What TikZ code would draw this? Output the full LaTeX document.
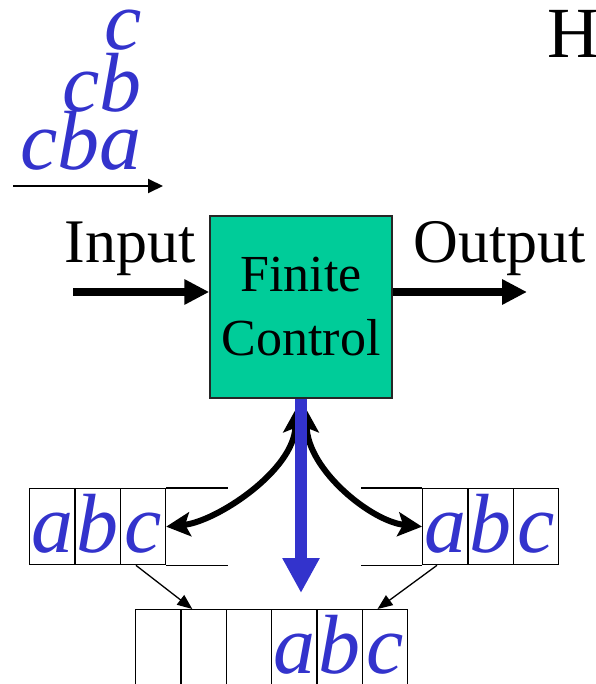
\documentclass[tikz,border=0pt]{standalone}
\usepackage{fontspec}
\setmainfont{Liberation Serif}
\usepackage{xcolor}
\definecolor{fcgreen}{HTML}{00CC99}
\definecolor{symblue}{HTML}{3333CC}
\usepackage{tikz}
\usetikzlibrary{arrows.meta, positioning}

\begin{document}
\begin{tikzpicture}[
  x=1pt, y=-1pt,
  control/.style={rectangle, draw=black!85, fill=fcgreen, line width=1.5pt,
    minimum width=182pt, minimum height=182pt, align=center,
    font=\fontsize{52}{64}\selectfont},
  lbl/.style={inner sep=0pt, font=\fontsize{62}{62}\selectfont},
  sym/.style={inner sep=0pt, text=symblue, font=\fontsize{84}{84}\selectfont\itshape},
  cell/.style={rectangle, draw, line width=1.3pt, anchor=north west, inner sep=0pt,
    minimum width=45.3pt, minimum height=76pt, text height=58pt, text depth=6pt,
    text=symblue, font=\fontsize{84}{84}\selectfont\itshape},
  fat/.style={-{Triangle[length=25pt, width=24pt]}, line width=8pt},
  move/.style={{Stealth[length=24pt, width=24pt, inset=5pt]}-{Stealth[length=24pt, width=24pt, inset=5pt]}, line width=6pt},
  write/.style={-{Triangle[length=35pt, width=35pt]}, line width=12pt, draw=symblue},
  thin/.style={-{Triangle[length=15pt, width=12pt]}, line width=1.3pt}
]
\useasboundingbox (0,0) rectangle (595,684);

\node[lbl, font=\fontsize{72}{72}\selectfont, anchor=base west] (ttl) at (547,58) {H};

\node[sym, anchor=base east] (s1) at (142,50) {c};
\node[sym, anchor=base east] (s2) at (142,112) {cb};
\node[sym, anchor=base east] (s3) at (142,170) {cba};
\coordinate (feed) at (13,186);
\coordinate (feedend) at (163,186);
\draw[-{Triangle[length=15pt, width=14pt]}, line width=2pt] (feed) -- (feedend);

\node[control] (fc) at (301,307) {Finite\\Control};
\coordinate (in) at (73,292);
\coordinate (out) at (527,292);
\draw[fat] (in) -- ([yshift=15pt]fc.west);
\draw[fat] ([yshift=15pt]fc.east) -- (out);
\node[lbl, anchor=base] (inlbl) at (130,262) {Input};
\node[lbl, anchor=base] (outlbl) at (500,262) {Output};

\foreach \ch [count=\i] in {a,b,c}
  \node[cell] (l\i) at ({29+45.3*(\i-1)},488) {\ch};
\foreach \ch [count=\i] in {a,b,c}
  \node[cell] (r\i) at ({422+45.3*(\i-1)},488) {\ch};
\foreach \ch [count=\i] in {{},{},{},a,b,c}
  \node[cell] (b\i) at ({135+45.3*(\i-1)},609) {\ch};

\draw[line width=1.3pt] (l3.north east) -- ++(62,0);
\draw[line width=1.3pt] (l3.south east) -- ++(62,0);
\draw[line width=1.3pt] (r1.north west) -- ++(-61,0);
\draw[line width=1.3pt] (r1.south west) -- ++(-61,0);

\draw[move] ([xshift=-5pt, yshift=-10pt]fc.south) .. controls +(-2,62) and +(50,-5) .. (l3.east);
\draw[move] ([xshift=5pt, yshift=-10pt]fc.south) .. controls +(2,62) and +(-50,-5) .. (r1.west);
\coordinate (wr) at (301,593);
\draw[write] (fc.south) -- (wr);

\draw[thin] ([xshift=-7pt]l3.south) -- ([xshift=12pt]b2.north west);
\draw[thin] ([xshift=15pt]r1.south west) -- ([xshift=16pt]b6.north west);
\end{tikzpicture}
\end{document}
